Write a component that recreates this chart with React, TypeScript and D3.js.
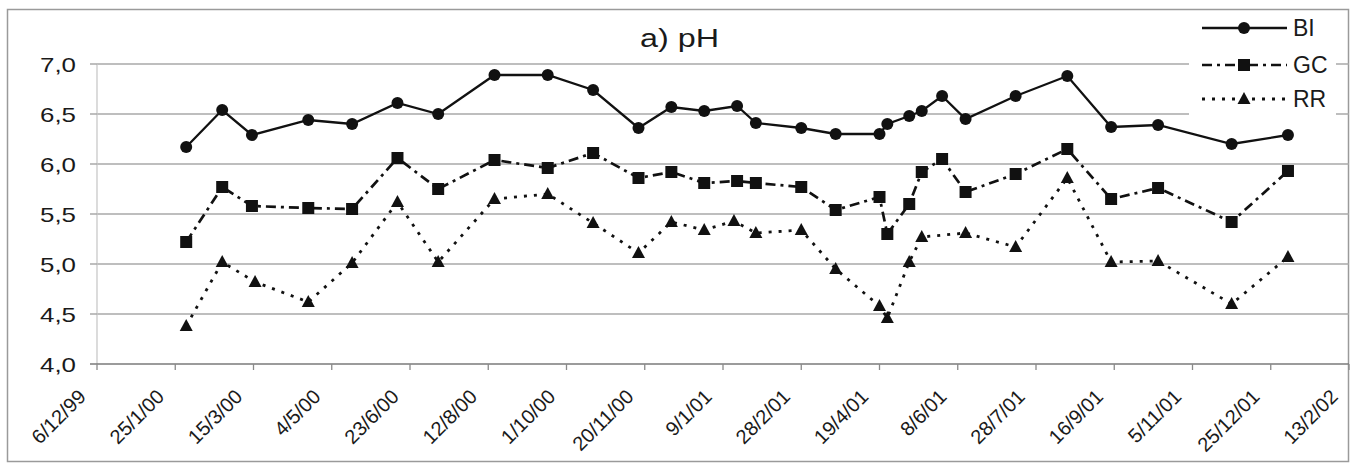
import React from "react";
import * as d3 from "d3";

const tickLabels = ["6/12/99","25/1/00","15/3/00","4/5/00","23/6/00","12/8/00","1/10/00","20/11/00","9/1/01","28/2/01","19/4/01","8/6/01","28/7/01","16/9/01","5/11/01","25/12/01","13/2/02"];
const yTicks = [4.0, 4.5, 5.0, 5.5, 6.0, 6.5, 7.0];

const biDates = ["2000-02-01","2000-02-24","2000-03-14","2000-04-19","2000-05-17","2000-06-15","2000-07-11","2000-08-16","2000-09-19","2000-10-18","2000-11-16","2000-12-07","2000-12-28","2001-01-18","2001-01-30","2001-02-28","2001-03-22","2001-04-19","2001-04-24","2001-05-08","2001-05-16","2001-05-29","2001-06-13","2001-07-15","2001-08-17","2001-09-14","2001-10-14","2001-11-30","2002-01-05"];
const biValues = [6.17,6.54,6.29,6.44,6.40,6.61,6.50,6.89,6.89,6.74,6.36,6.57,6.53,6.58,6.41,6.36,6.30,6.30,6.40,6.48,6.53,6.68,6.45,6.68,6.88,6.37,6.39,6.20,6.29];

const gcDates = biDates;
const gcValues = [5.22,5.77,5.58,5.56,5.55,6.06,5.75,6.04,5.96,6.11,5.86,5.92,5.81,5.83,5.81,5.77,5.54,5.67,5.30,5.60,5.92,6.05,5.72,5.90,6.15,5.65,5.76,5.42,5.93];

const rrDates = ["2000-02-01","2000-02-24","2000-03-16","2000-04-19","2000-05-17","2000-06-15","2000-07-11","2000-08-16","2000-09-19","2000-10-18","2000-11-16","2000-12-07","2000-12-28","2001-01-16","2001-01-30","2001-02-28","2001-03-22","2001-04-19","2001-04-24","2001-05-08","2001-05-16","2001-06-13","2001-07-15","2001-08-17","2001-09-14","2001-10-14","2001-11-30","2002-01-05"];
const rrValues = [4.38,5.02,4.82,4.62,5.01,5.62,5.02,5.65,5.70,5.41,5.11,5.42,5.34,5.43,5.31,5.34,4.95,4.58,4.46,5.02,5.27,5.31,5.17,5.86,5.02,5.03,4.60,5.07];

const parse = d3.utcParse("%Y-%m-%d");
const FONT = "'Liberation Sans', Arial, sans-serif";

type Pt = { d: Date; v: number };
const mk = (ds: string[], vs: number[]): Pt[] => ds.map((s, i) => ({ d: parse(s) as Date, v: vs[i] }));

const series = [
  { name: "BI", data: mk(biDates, biValues), dash: "none", width: 2.3, marker: "circle" },
  { name: "GC", data: mk(gcDates, gcValues), dash: "10,5,3,5", width: 2.7, marker: "square" },
  { name: "RR", data: mk(rrDates, rrValues), dash: "3,7", width: 2.8, marker: "triangle" },
];

function Marker({ type, x, y }: { type: string; x: number; y: number }) {
  if (type === "circle") return <circle cx={x} cy={y} r={6} fill="#111" />;
  if (type === "square") return <rect x={x - 6} y={y - 6} width={12} height={12} fill="#111" />;
  return <path d={`M${x},${y - 7} L${x + 6.5},${y + 5} L${x - 6.5},${y + 5} Z`} fill="#111" />;
}

export default function App() {
  const W = 1361, H = 466;
  const start = new Date(Date.UTC(1999, 11, 6));
  const end = new Date(Date.UTC(2002, 1, 13));
  const x = d3.scaleUtc().domain([start, end]).range([97, 1349]);
  const y = d3.scaleLinear().domain([4, 7]).range([364, 64]);
  const tickDates = tickLabels.map((_, i) => d3.utcDay.offset(start, i * 50));
  const line = d3.line<Pt>().x(p => x(p.d)).y(p => y(p.v));

  const legendY = [28, 65, 99];

  return (
    <svg width={W} height={H} style={{ position: "absolute", left: 0, top: 0, background: "#fff" }}>
      <rect x={0} y={0} width={W} height={H} fill="#fff" />
      <rect x={7.5} y={9.5} width={1341} height={452} fill="none" stroke="#9a9a9a" strokeWidth={1.5} />
      {yTicks.slice(1).map(t => (
        <line key={t} x1={97} x2={1349} y1={y(t)} y2={y(t)} stroke="#a8a8a8" strokeWidth={1.5} />
      ))}
      <line x1={97} x2={97} y1={64} y2={364} stroke="#c4c4c4" strokeWidth={1.2} />
      <line x1={90} x2={1349} y1={y(4)} y2={y(4)} stroke="#7a7a7a" strokeWidth={1.6} />
      {yTicks.slice(1).map(t => (
        <line key={"yt" + t} x1={90} x2={97} y1={y(t)} y2={y(t)} stroke="#a8a8a8" strokeWidth={1.5} />
      ))}
      {tickDates.map((d, i) => (
        <line key={"xt" + i} x1={x(d)} x2={x(d)} y1={364} y2={370} stroke="#8a8a8a" strokeWidth={1.3} />
      ))}
      {yTicks.map(t => (
        <text key={"yl" + t} x={40} y={y(t) + 7.5} fontFamily={FONT} fontSize={21} fill="#1a1a1a"
          textLength={36} lengthAdjust="spacingAndGlyphs">
          {t.toFixed(1).replace(".", ",")}
        </text>
      ))}
      {tickDates.map((d, i) => (
        <text key={"xl" + i} transform={`translate(${x(d) - 10},${398}) rotate(-45)`} textAnchor="end"
          fontFamily={FONT} fontSize={20} fill="#1a1a1a">
          {tickLabels[i]}
        </text>
      ))}
      <text x={640} y={47} fontFamily={FONT} fontSize={26} fill="#1a1a1a" textLength={79} lengthAdjust="spacingAndGlyphs">a) pH</text>
      {series.map(s => (
        <g key={s.name}>
          <path d={line(s.data) || ""} fill="none" stroke="#111" strokeWidth={s.width}
            strokeDasharray={s.dash === "none" ? undefined : s.dash} />
          {s.data.map((p, i) => <Marker key={i} type={s.marker} x={x(p.d)} y={y(p.v)} />)}
        </g>
      ))}
      <rect x={1189} y={11} width={147} height={108} fill="#fff" />
      {series.map((s, i) => (
        <g key={"lg" + s.name}>
          <line x1={1202} x2={1287} y1={legendY[i]} y2={legendY[i]} stroke="#111" strokeWidth={s.width}
            strokeDasharray={s.dash === "none" ? undefined : s.dash} />
          <Marker type={s.marker} x={1244} y={legendY[i]} />
          <text x={1293} y={legendY[i] + 8} fontFamily={FONT} fontSize={23} fill="#1a1a1a">{s.name}</text>
        </g>
      ))}
    </svg>
  );
}
